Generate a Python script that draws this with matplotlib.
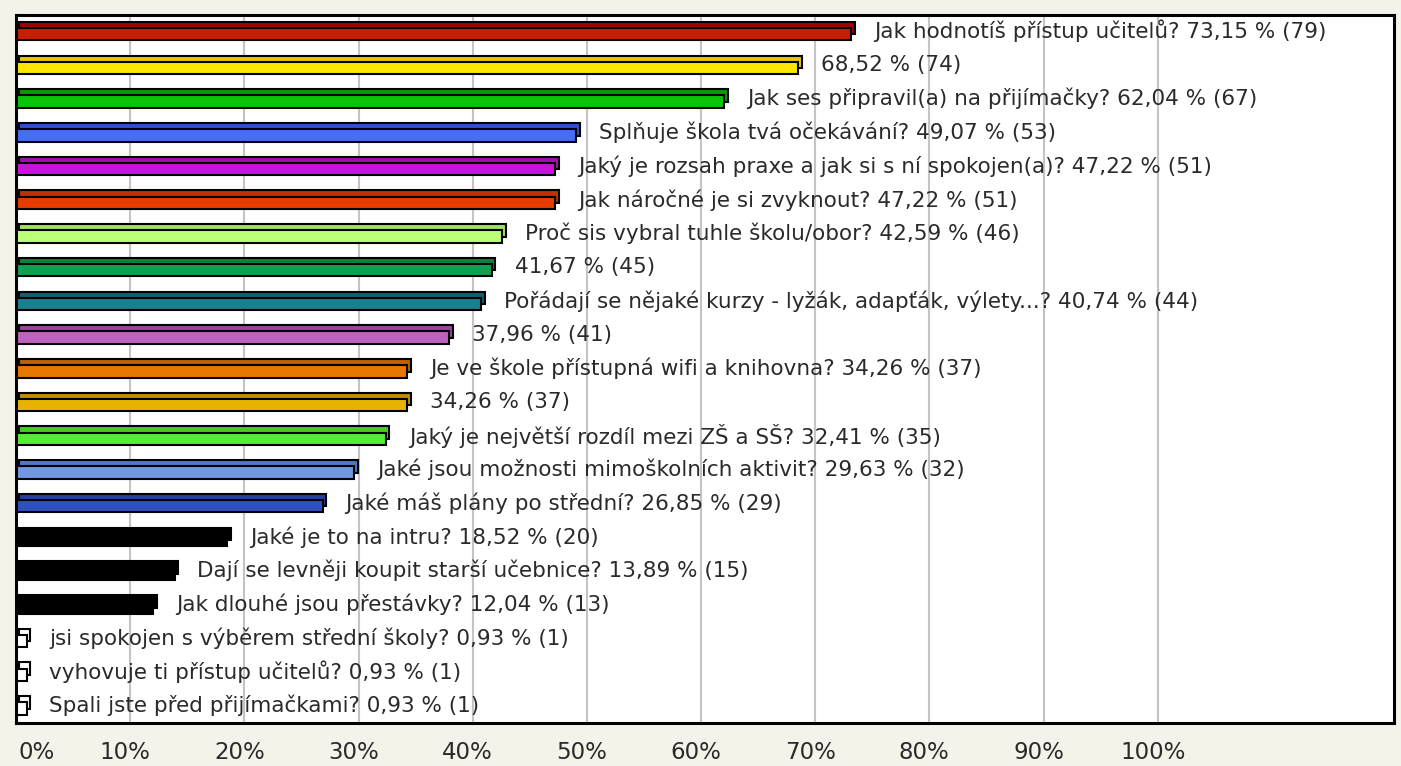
import matplotlib
matplotlib.use('Agg')
import matplotlib.pyplot as plt
import matplotlib.transforms as mtransforms

plt.rcParams['font.family'] = ['DejaVu Sans']

# data
questions = [
    'Jak hodnotíš přístup učitelů?',
    '',
    'Jak ses připravil(a) na přijímačky?',
    'Splňuje škola tvá očekávání?',
    'Jaký je rozsah praxe a jak si s ní spokojen(a)?',
    'Jak náročné je si zvyknout?',
    'Proč sis vybral tuhle školu/obor?',
    '',
    'Pořádají se nějaké kurzy - lyžák, adapťák, výlety...?',
    '',
    'Je ve škole přístupná wifi a knihovna?',
    '',
    'Jaký je největší rozdíl mezi ZŠ a SŠ?',
    'Jaké jsou možnosti mimoškolních aktivit?',
    'Jaké máš plány po střední?',
    'Jaké je to na intru?',
    'Dají se levněji koupit starší učebnice?',
    'Jak dlouhé jsou přestávky?',
    'jsi spokojen s výběrem střední školy?',
    'vyhovuje ti přístup učitelů?',
    'Spali jste před přijímačkami?',
]
percents = [73.15, 68.52, 62.04, 49.07, 47.22, 47.22, 42.59, 41.67, 40.74, 37.96,
            34.26, 34.26, 32.41, 29.63, 26.85, 18.52, 13.89, 12.04, 0.93, 0.93, 0.93]
counts = [79, 74, 67, 53, 51, 51, 46, 45, 44, 41, 37, 37, 35, 32, 29, 20, 15, 13, 1, 1, 1]

front_colors = ['#c81e00', '#ffe600', '#0ac40a', '#4470f0', '#c814d8', '#e63c00',
                '#bcff78', '#10a050', '#1a7f90', '#c060c0', '#e67800', '#e6b400',
                '#50f030', '#7098e0', '#3050c0', '#000000', '#000000', '#000000',
                '#ffffff', '#ffffff', '#ffffff']
back_colors = ['#a00000', '#e6c800', '#089a08', '#3050d0', '#a010b0', '#c03000',
               '#a0e060', '#108040', '#106070', '#a040a0', '#c06000', '#c09000',
               '#40d020', '#5078c0', '#2040a0', '#000000', '#000000', '#000000',
               '#ffffff', '#ffffff', '#ffffff']

tick_values = [0, 10, 20, 30, 40, 50, 60, 70, 80, 90, 100]
tick_labels = ['0%', '10%', '20%', '30%', '40%', '50%', '60%', '70%', '80%', '90%', '100%']

W, H = 1401, 766
fig = plt.figure(figsize=(W / 100, H / 100), dpi=100)
fig.patch.set_facecolor('#f4f3ea')
ax = fig.add_axes([16 / W, 1 - 723 / H, 1378 / W, 708 / H])
ax.set_facecolor('white')

n = len(percents)
ys = list(range(n))
ax.set_xlim(0, 120.7)
ax.set_ylim(n - 0.5, -0.5)

# grid lines
ax.vlines(tick_values[1:], -0.5, n - 0.5, color='#c4c4c4', lw=1.5, zorder=0)

# 3D-look bars: back face shifted up/right, front face on top
bh = 0.37
ax.barh([y - 0.11 for y in ys], percents, left=0.3, height=bh, color=back_colors,
        edgecolor='black', linewidth=1.5, zorder=2)
ax.barh([y + 0.07 for y in ys], percents, left=0, height=bh, color=front_colors,
        edgecolor='black', linewidth=1.5, zorder=3)

for y, q, p, c in zip(ys, questions, percents, counts):
    pct = ('%.2f' % p).replace('.', ',')
    txt = (q + ' ' if q else '') + pct + ' % (' + str(c) + ')'
    ax.text(p + 2.0, y - 0.02, txt, va='center', ha='left', fontsize=15.5,
            color='#2a2a2a', zorder=4, clip_on=True)

ax.set_xticks([])
ax.set_yticks([])
for s in ax.spines.values():
    s.set_linewidth(2.2)
    s.set_color('black')
    s.set_zorder(5)

# bottom labels (slightly off the grid lines as in the picture)
for v, lab in zip(tick_values, tick_labels):
    dx = 21 if v == 0 else -5
    tr = mtransforms.blended_transform_factory(ax.transData, ax.transAxes) + \
        mtransforms.ScaledTranslation(dx / 100, 0, fig.dpi_scale_trans)
    ax.text(v, -0.026, lab, transform=tr, ha='center', va='top', fontsize=16.5,
            color='#2a2a2a', clip_on=False)

fig.savefig('out.png', dpi=100, facecolor=fig.get_facecolor())
